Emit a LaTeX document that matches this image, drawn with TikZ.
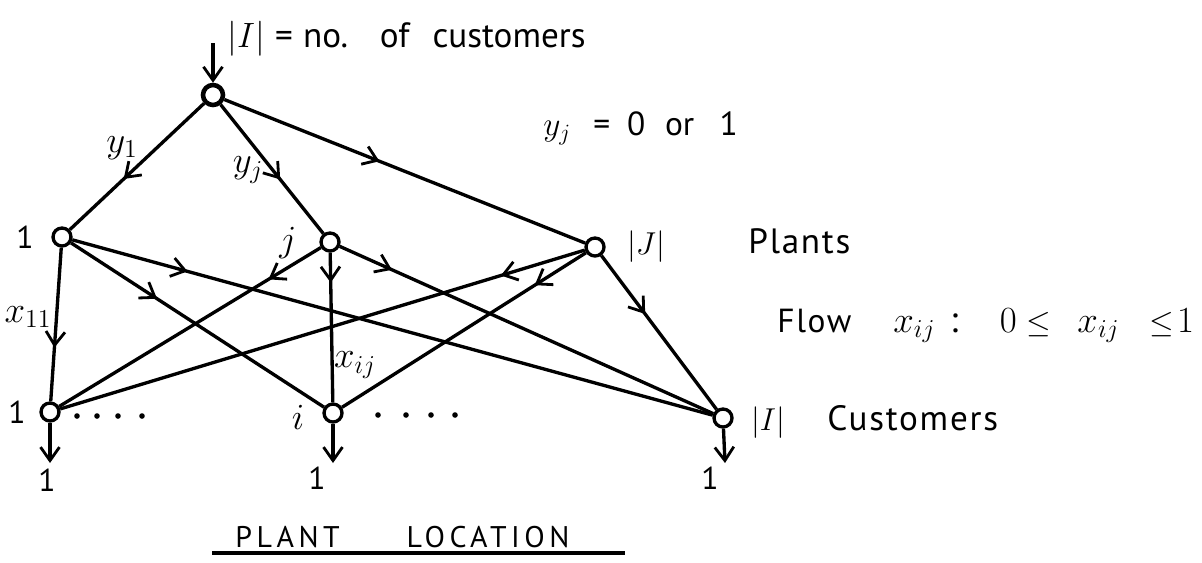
\documentclass[tikz,border=0pt]{standalone}
\usepackage{fix-cm}
\usepackage{fontspec}
\setmainfont{PT Sans}
\newfontfamily\handfont[LetterSpace=5]{PT Sans}
\newfontfamily\capsfont[LetterSpace=15]{PT Sans}
\usetikzlibrary{arrows.meta,decorations.markings}
\newcommand{\smallle}{{\fontsize{18}{20}\selectfont$\le$}}
\begin{document}
\begin{tikzpicture}[x=0.02cm,y=-0.02cm,
  vtx/.style={circle,draw,line width=1.9pt,minimum size=0.36cm,inner sep=0pt},
  edge/.style={line width=1.9pt},
  barb/.tip={Straight Barb[length=2.7mm,width=3.8mm,line width=1.6pt]},
  midarrow/.style={postaction={decorate},decoration={markings,mark=at position #1 with {\arrow{barb}}}},
  endarrow/.style={-barb},
  lbl/.style={font=\fontsize{18}{21}\selectfont,inner sep=0pt},
  varlbl/.style={font=\fontsize{21}{24}\selectfont,inner sep=0pt},
  bigword/.style={font=\handfont\fontsize{20}{23}\selectfont,inner sep=0pt}
]
\useasboundingbox (0,0) rectangle (1202,562);

% nodes
\node[vtx,minimum size=0.40cm,line width=2.6pt] (r) at (213,95) {};
\node[vtx] (p1) at (62,237) {};
\node[vtx] (pj) at (330,242) {};
\node[vtx] (pJ) at (595,247) {};
\node[vtx] (c1) at (50,412) {};
\node[vtx] (ci) at (333,413) {};
\node[vtx] (cI) at (723,418) {};

% in / out
\coordinate (rin) at (213,43);
\draw[edge,endarrow] (rin) -- (r);
\coordinate (o1) at (50,463);
\coordinate (oi) at (333,463);
\coordinate (oI) at (725,463);
\draw[edge,endarrow] (c1) -- (o1);
\draw[edge,endarrow] (ci) -- (oi);
\draw[edge,endarrow] (cI) -- (oI);

% root edges
\draw[edge,midarrow=0.6] (r) -- (p1);
\draw[edge,midarrow=0.58] (r) -- (pj);
\draw[edge,midarrow=0.43] (r) -- (pJ);

% plant 1
\draw[edge,midarrow=0.65] (p1) -- (c1);
\draw[edge,midarrow=0.34] (p1) -- (ci);
\draw[edge,midarrow=0.18] (p1) -- (cI);
% plant j
\draw[edge,midarrow=0.2] (pj) -- (c1);
\draw[edge,midarrow=0.2] (pj) -- (ci);
\draw[edge,midarrow=0.14] (pj) -- (cI);
% plant |J|
\draw[edge,midarrow=0.16] (pJ) -- (c1);
\draw[edge,midarrow=0.21] (pJ) -- (ci);
\draw[edge,midarrow=0.38] (pJ) -- (cI);

% dots
\foreach \x in {77,97,118,142} \fill (\x,416) circle (2.8);
\foreach \x in {378,406,431,455} \fill (\x,415) circle (2.8);

% labels
\node[lbl,anchor=base west,font=\fontsize{20}{23}\selectfont] (tI) at (227,47)
  {\makebox[27.2pt][l]{$|I|$}\makebox[15.9pt][l]{=}\makebox[43.7pt][l]{no.}\makebox[30pt][l]{of}customers};
\node[varlbl] (ly1) at (122,148) {$y_1$};
\node[varlbl] (lyj) at (248,170) {$y_j$};
\node[lbl,anchor=base west,font=\fontsize{19}{22}\selectfont] (lyeq) at (543,135)
  {\makebox[28.4pt][l]{$y_j$}\makebox[19.3pt][l]{=}\makebox[21.6pt][l]{0}\makebox[31pt][l]{or}1};

\node[lbl] (lp1) at (25,237) {1};
\node[varlbl] (lpj) at (288,243) {$j$};
\node[lbl] (lpJ) at (646,247) {$|J|$};
\node[bigword,anchor=base west] (lplants) at (748,253) {Plants};

\node[varlbl] (lx11) at (28,317) {$x_{11}$};
\node[varlbl] (lxij) at (355,365) {$x_{ij}$};

\node[lbl] (lc1) at (17,412) {1};
\node[varlbl] (lci) at (298,417) {$i$};
\node[lbl] (lcI) at (768,423) {$|I|$};
\node[bigword,anchor=base west] (lcust) at (827,430) {Customers};

\node[lbl] (lo1) at (47,480) {1};
\node[lbl] (loi) at (317,478) {1};
\node[lbl] (loI) at (710,478) {1};

\node[bigword,anchor=base west,font=\handfont\fontsize{19}{22}\selectfont] (lflow) at (777,332) {Flow};
\node[lbl,anchor=base west,font=\fontsize{21}{24}\selectfont] (lfr) at (893,332)
  {\makebox[32.3pt][l]{$x_{ij}$}\makebox[28.3pt][l]{:}\makebox[15.3pt][l]{$0$}\makebox[28.9pt][l]{\smallle}\makebox[40.8pt][l]{$x_{ij}$}\makebox[15.9pt][l]{\smallle}$1$};

\node[anchor=base west,inner sep=0pt,font=\capsfont\fontsize{17}{20}\selectfont] (title) at (235,547)
  {\makebox[97.5pt][l]{PLANT}LOCATION};
\coordinate (ul1) at (212,553);
\coordinate (ul2) at (625,553);
\draw[line width=1.8pt] (ul1) -- (ul2);
\end{tikzpicture}
\end{document}
